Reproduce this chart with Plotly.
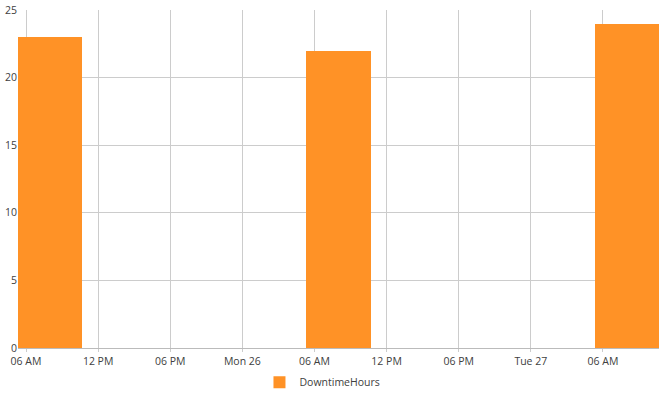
import plotly.graph_objects as go

dates = ["2018-02-25 08:00", "2018-02-26 08:00", "2018-02-27 08:00"]
downtime_hours = [23, 22, 24]
series_name = "DowntimeHours"

tick_vals = ["2018-02-25 06:00", "2018-02-25 12:00", "2018-02-25 18:00",
             "2018-02-26 00:00", "2018-02-26 06:00", "2018-02-26 12:00",
             "2018-02-26 18:00", "2018-02-27 00:00", "2018-02-27 06:00"]
tick_text = ["06 AM", "12 PM", "06 PM", "Mon 26", "06 AM", "12 PM",
             "06 PM", "Tue 27", "06 AM"]
y_ticks = [0, 5, 10, 15, 20, 25]

bar_width_ms = 320 * 60 * 1000

fig = go.Figure()
fig.add_trace(go.Bar(
    x=dates, y=downtime_hours, name=series_name,
    width=[bar_width_ms] * len(dates),
    marker=dict(color="#FF9226", line=dict(width=0)),
    showlegend=True,
))

fig.update_layout(
    width=665, height=393,
    margin=dict(l=18, r=6, t=10, b=45, autoexpand=False),
    paper_bgcolor="white", plot_bgcolor="white",
    font=dict(family="Open Sans, Noto Sans, sans-serif", size=10.5, color="#404040"),
    showlegend=True,
    legend=dict(orientation="h", x=0.475, xanchor="center",
                y=0.064, yanchor="top", yref="container",
                font=dict(size=10.5, color="#404040"), itemwidth=30),
    bargap=0,
)
fig.update_xaxes(
    type="date", automargin=False,
    range=["2018-02-25 05:20", "2018-02-27 10:40"],
    tickvals=tick_vals, ticktext=tick_text,
    showgrid=True, gridcolor="#cccccc", gridwidth=1,
    showline=True, linecolor="#bbbbbb", linewidth=1,
    ticks="outside", ticklen=3, tickcolor="#cccccc",
    zeroline=False,
)
fig.update_yaxes(
    range=[0, 25], tickvals=y_ticks, automargin=False,
    showgrid=True, gridcolor="#cccccc", gridwidth=1,
    showline=False, zeroline=False,
    ticks="", ticklen=0,
)

fig.write_html("out.html")
